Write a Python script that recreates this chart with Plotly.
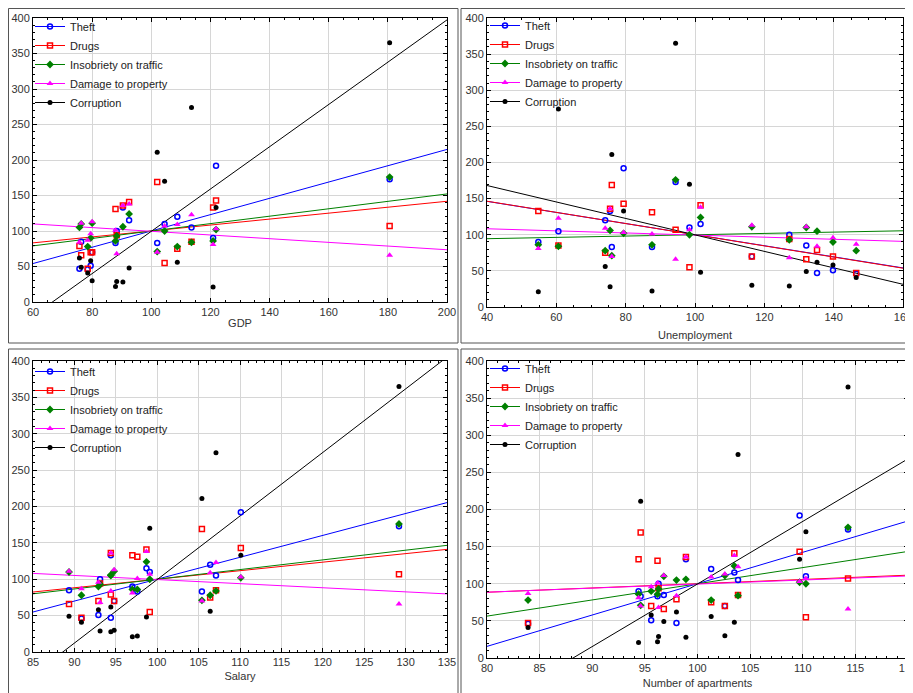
import numpy as np
import plotly.graph_objects as go

# ---- data: one entry per region (index values) ----
gdp = [75.7, 76.3, 78.5, 79.5, 80.0, 87.9, 88.3, 90.4, 92.5, 102.0, 104.5, 108.8, 113.6, 120.9, 121.9, 180.6]
unemployment = [135.2, 132.1, 146.5, 139.8, 116.4, 87.6, 127.2, 75.5, 101.6, 76.0, 98.4, 74.1, 60.6, 54.8, 79.4, 94.4]
salary = [94.4, 89.35, 90.85, 92.9, 94.8, 97.6, 93.1, 94.4, 98.7, 105.4, 99.1, 106.4, 107.1, 97.0, 110.1, 129.2]
apartments = [98.0, 96.8, 83.9, 95.6, 102.6, 96.2, 96.3, 98.9, 103.5, 94.6, 110.3, 101.3, 103.85, 94.4, 109.7, 114.3]

theft = [47, 85, 46, 51, 70, 83, 100, 133, 115, 83, 110, 120, 105, 90, 192, 173]
drugs = [79, 66, 47, 70, 70, 131, 94, 136, 141, 169, 55, 75, 85, 133, 143, 107]
insobriety = [105, 110, 78, 90, 111, 86, 93, 106, 124, 71, 100, 78, 84, 86, 102, 176]
damage = [84, 111, 87, 96, 113, 101, 68, 136, 138, 70, 107, 109, 123, 81, 103, 66]
corruption = [62, 49, 41, 58, 30, 22, 29, 28, 48, 211, 170, 56, 274, 21, 133, 365]

series_names = ["Theft", "Drugs", "Insobriety on traffic", "Damage to property", "Corruption"]
series_values = [theft, drugs, insobriety, damage, corruption]

x_titles = ["GDP", "Unemployment", "Salary", "Number of apartments"]
x_values = [gdp, unemployment, salary, apartments]
x_ranges = [[60, 200], [40, 160], [85, 135], [80, 120]]
x_dticks = [20, 20, 5, 5]
x_minor = [5, 5, 1, 1]

# ---- styles / geometry ----
OFF = 8                      # page body margin of the html page
W, H = 913 - OFF, 693 - OFF  # figure size so the page fits the window
colors = ["#0000ff", "#ff0000", "#008000", "#ff00ff", "#000000"]
symbols = ["circle-open", "square-open", "diamond", "triangle-up", "circle"]
msizes = [5, 5, 6, 6, 5]
FONT = "Liberation Sans, Arial, sans-serif"

# panel plot areas in window pixels: (x0, x1), (y0 top, y1 bottom)
pdom = [((33, 447), (18, 302)), ((487, 903), (18, 307)),
        ((33, 447), (361, 652)), ((487, 908), (361, 658))]
legpos = [(30, 12), (485, 11), (30, 357), (485, 354)]
standoffs = [2, 9, 5, 6]
frames = [(8.5, 8.5, 458, 343), (461, 8.5, 911, 343), (8.5, 349, 458, 700), (461, 349, 911, 700)]


def fx(px):
    return (px - OFF) / W


def fy(py):
    return 1 - (py - OFF) / H


fig = go.Figure()
layout = dict(width=W, height=H, margin=dict(l=0, r=0, t=0, b=0, autoexpand=False),
              paper_bgcolor="white", plot_bgcolor="white",
              font=dict(family=FONT, size=11, color="#333333"), showlegend=True)

for p in range(4):
    sfx = "" if p == 0 else str(p + 1)
    xa, ya = "x" + sfx, "y" + sfx
    leg = "legend" + sfx
    xv = np.array(x_values[p], dtype=float)
    xl = np.array(x_ranges[p], dtype=float)
    for s in range(5):
        yv = np.array(series_values[s], dtype=float)
        k, b = np.polyfit(xv, yv, 1)
        # least-squares regression line across the axis range
        fig.add_trace(go.Scatter(x=xl, y=k * xl + b, mode="lines", xaxis=xa, yaxis=ya,
                                 line=dict(color=colors[s], width=1), showlegend=False,
                                 hoverinfo="skip", legendgroup=f"{p}{s}", legend=leg))
    for s in range(5):
        fig.add_trace(go.Scatter(x=x_values[p], y=series_values[s], mode="markers", xaxis=xa, yaxis=ya,
                                 marker=dict(symbol=symbols[s], size=msizes[s], color=colors[s],
                                             line=dict(color=colors[s], width=1.5 if "open" in symbols[s] else 0)),
                                 name=series_names[s], showlegend=False,
                                 legendgroup=f"{p}{s}", legend=leg))
    for s in range(5):
        fig.add_trace(go.Scatter(x=[None], y=[None], mode="lines+markers", xaxis=xa, yaxis=ya,
                                 marker=dict(symbol=symbols[s], size=msizes[s], color=colors[s],
                                             line=dict(color=colors[s], width=1.5 if "open" in symbols[s] else 0)),
                                 line=dict(color=colors[s], width=1),
                                 name=series_names[s], showlegend=True,
                                 legendgroup=f"{p}{s}", legend=leg))
    (x0, x1), (y0, y1) = pdom[p]
    common = dict(showline=True, linecolor="black", linewidth=1, mirror="allticks",
                  ticks="inside", ticklen=4, tickcolor="black", showgrid=True,
                  gridcolor="#d6d6d6", gridwidth=1, zeroline=False, automargin=False,
                  tickfont=dict(family=FONT, size=11, color="#333333"))
    layout["xaxis" + sfx] = dict(common, domain=[fx(x0), fx(x1)], range=x_ranges[p],
                                 dtick=x_dticks[p], tick0=0, anchor=ya, ticklabeloverflow="allow",
                                 minor=dict(ticks="inside", ticklen=2, dtick=x_minor[p],
                                            tickcolor="black", showgrid=False),
                                 title=dict(text=x_titles[p], standoff=standoffs[p],
                                            font=dict(family=FONT, size=11, color="#333333")))
    layout["yaxis" + sfx] = dict(common, domain=[fy(y1), fy(y0)], range=[0, 400],
                                 dtick=50, tick0=0, anchor=xa,
                                 minor=dict(ticks="inside", ticklen=2, dtick=10,
                                            tickcolor="black", showgrid=False))
    lx, ly = legpos[p]
    layout[leg] = dict(x=fx(lx), y=fy(ly), xanchor="left", yanchor="top",
                       bgcolor="rgba(0,0,0,0)", borderwidth=0, tracegroupgap=0,
                       font=dict(family=FONT, size=11, color="#222222"))

fig.update_layout(**layout)
for (bx0, by0, bx1, by1) in frames:
    fig.add_shape(type="rect", xref="paper", yref="paper",
                  x0=fx(bx0), x1=fx(bx1), y0=fy(by1), y1=fy(by0),
                  line=dict(color="#555555", width=1), fillcolor="rgba(0,0,0,0)", layer="below")

fig.write_html("out.html")
